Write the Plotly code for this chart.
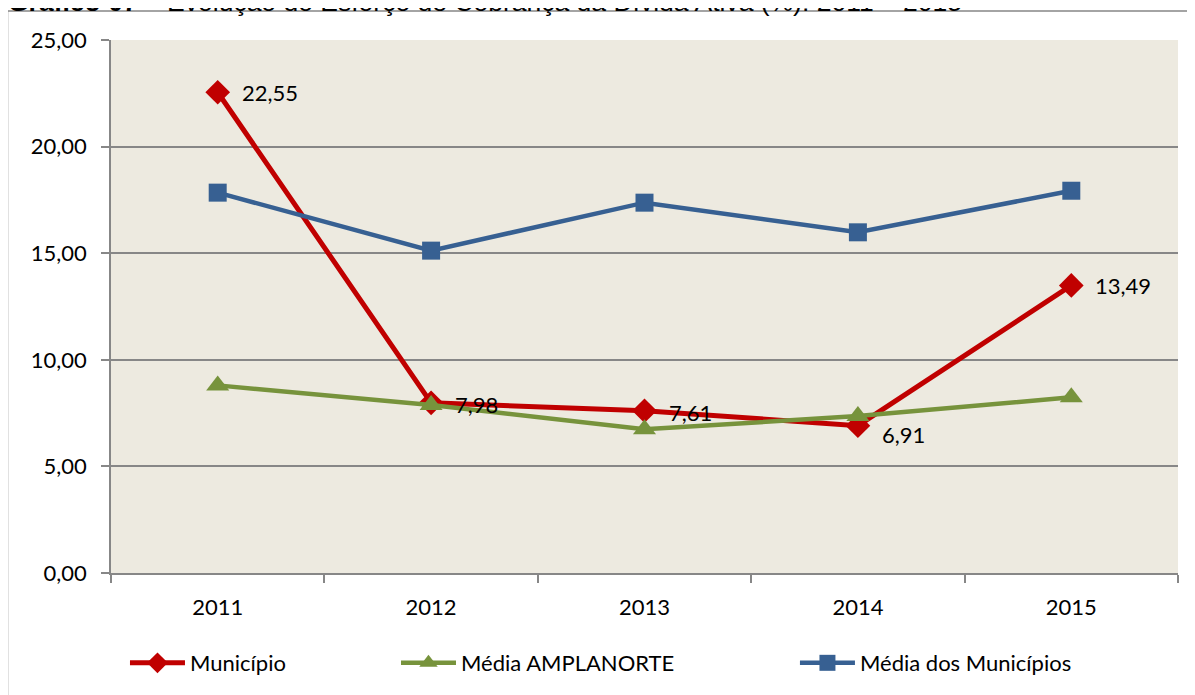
import plotly.graph_objects as go

years = ["2011", "2012", "2013", "2014", "2015"]
municipio = [22.55, 7.98, 7.61, 6.91, 13.49]
media_amplanorte = [8.80, 7.88, 6.74, 7.36, 8.24]
media_municipios = [17.84, 15.12, 17.37, 15.98, 17.93]
y_ticks = [0, 5, 10, 15, 20, 25]

FONT = "Lato"

fig = go.Figure()
fig.add_trace(go.Scatter(
    x=years, y=municipio, name="Município", mode="lines+markers",
    line=dict(color="#C00000", width=5),
    marker=dict(symbol="diamond", size=19, color="#C00000"),
    legend="legend",
))
fig.add_trace(go.Scatter(
    x=years, y=media_amplanorte, name="Média AMPLANORTE", mode="lines+markers",
    line=dict(color="#77933C", width=4.5),
    marker=dict(symbol="triangle-up", size=20, color="#77933C"),
    legend="legend2",
))
fig.add_trace(go.Scatter(
    x=years, y=media_municipios, name="Média dos Municípios", mode="lines+markers",
    line=dict(color="#376092", width=4.5),
    marker=dict(symbol="square", size=18, color="#376092"),
    legend="legend3",
))

# data labels for Município (x given as category index)
yshifts = [0, -2, -2, -9, 0]
for i, (yv, ys) in enumerate(zip(municipio, yshifts)):
    fig.add_annotation(
        x=i, y=yv, xref="x", yref="y",
        text=f"{yv:.2f}".replace(".", ","),
        showarrow=False, xanchor="left", yanchor="middle",
        xshift=22, yshift=ys,
        font=dict(family=FONT, size=22, color="#000000"),
    )

# cut-off title at top
fig.add_annotation(
    xref="paper", yref="paper", x=-0.0984, y=1.0400,
    xanchor="left", yanchor="bottom", showarrow=False,
    text="<b>Gráfico 07</b> – Evolução do Esforço de Cobrança da Dívida Ativa (%): 2011 – 2015",
    font=dict(family="Liberation Sans", size=26.5, color="#000000"),
)

# outer chart border
fig.add_shape(
    type="rect", xref="paper", yref="paper",
    x0=-0.0970, x1=1.05, y0=-0.5, y1=1.0543,
    line=dict(color="#868686", width=1.5), fillcolor="rgba(0,0,0,0)",
    layer="below",
)

leg_common = dict(
    orientation="h", y=-0.1667, xanchor="left", yanchor="middle",
    font=dict(family=FONT, size=22, color="#000000"),
    itemwidth=55, bgcolor="rgba(0,0,0,0)",
)

fig.update_layout(
    width=1187, height=687,
    margin=dict(l=103, r=17, t=32, b=121),
    paper_bgcolor="#FFFFFF",
    plot_bgcolor="#EDEAE0",
    separators=",.",
    font=dict(family=FONT, size=22, color="#000000"),
    showlegend=True,
    legend=dict(x=0.0131, **leg_common),
    legend2=dict(x=0.2671, **leg_common),
    legend3=dict(x=0.6410, **leg_common),
    xaxis=dict(
        type="category", showgrid=False, showline=True,
        linecolor="#878787", linewidth=1.5,
        ticks="outside", tickson="boundaries", ticklen=8,
        tickcolor="#878787", tickwidth=1.5,
        ticklabelstandoff=14,
        tickfont=dict(family=FONT, size=22),
        range=[-0.5, 4.5],
    ),
    yaxis=dict(
        range=[0, 25], tickvals=y_ticks, tickformat=".2f",
        showgrid=True, gridcolor="#878787", gridwidth=1.5,
        showline=True, linecolor="#878787", linewidth=1.5,
        ticks="outside", ticklen=8, tickcolor="#878787", tickwidth=1.5,
        ticklabelstandoff=10,
        tickfont=dict(family=FONT, size=22),
        zeroline=False,
    ),
)

fig.write_html("out.html")
